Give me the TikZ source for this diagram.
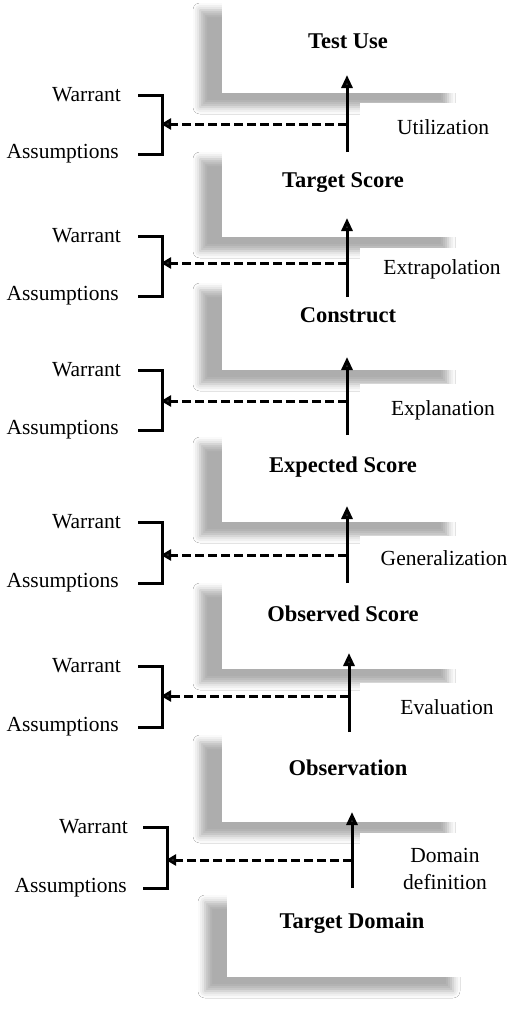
\documentclass[tikz,border=0pt]{standalone}
\usepackage{fontspec}
\setmainfont{Liberation Serif}
\usepackage{tikz}
\usetikzlibrary{positioning,calc,arrows.meta,shadows.blur}

\tikzset{
  layerbox/.style={fill=white, blur shadow={shadow xshift=-22pt, shadow yshift=-14pt,
        shadow blur radius=7pt, shadow opacity=32}},
  stepfill/.style={fill=white},
  levelname/.style={font=\fontsize{22.5}{26}\selectfont\bfseries, inner sep=0pt},
  inference/.style={font=\fontsize{21.5}{25}\selectfont, inner sep=0pt, align=center},
  claimtext/.style={font=\fontsize{21.5}{25}\selectfont, inner sep=0pt, anchor=east},
  uparrow/.style={line width=3pt, -{Triangle[length=13pt,width=11pt]}},
  dasharrow/.style={line width=3pt, dash pattern=on 9pt off 4pt,
        -{Triangle[length=10pt,width=11pt]}, shorten >=-1pt},
  bracket/.style={line width=3pt}
}

\begin{document}
\begin{tikzpicture}[x=1pt, y=-1pt]
  \useasboundingbox (0,0) rectangle (513,1010);
  \fill[white] (0,0) rectangle (513,1010);

  % shadowed layers
  \path[layerbox] (222,-4) rectangle (470,93);
  \fill[stepfill] (360,103) rectangle (513,140);
  \path[layerbox] (222,145) rectangle (470,237);
  \fill[stepfill] (360,248) rectangle (513,280);
  \path[layerbox] (222,276) rectangle (470,370);
  \fill[stepfill] (360,384) rectangle (513,425);
  \path[layerbox] (222,430) rectangle (470,522);
  \fill[stepfill] (360,536) rectangle (513,575);
  \path[layerbox] (222,576) rectangle (470,669);
  \fill[stepfill] (360,683) rectangle (513,725);
  \path[layerbox] (222,728) rectangle (470,822);
  \fill[stepfill] (360,833) rectangle (513,885);
  \path[layerbox] (227,888) rectangle (475,977);

  % level names
  \node[levelname] (use)  at (348,41)  {Test Use};
  \node[levelname] (tgt)  at (343,183) {Target Score};
  \node[levelname] (cons) at (348,315) {Construct};
  \node[levelname] (exp)  at (343,467) {Expected Score};
  \node[levelname] (obs)  at (343,614) {Observed Score};
  \node[levelname] (obsv) at (348,768) {Observation};
  \node[levelname] (dom)  at (352,923) {Target Domain};

  % inferences
  \node[inference] (util)  at (443,127) {Utilization};
  \node[inference] (extra) at (442,269) {Extrapolation};
  \node[inference] (expl)  at (443,410) {Explanation};
  \node[inference] (gen)   at (444,558) {Generalization};
  \node[inference] (eval)  at (447,707) {Evaluation};
  \node[inference] (ddef)  at (445,869) {Domain\\[2pt]definition};

  % warrants and assumptions
  \node[claimtext] (w1) at (121,95)  {Warrant};
  \node[claimtext] (s1) at (119,154) {Assumptions};
  \node[claimtext] (w2) at (121,236) {Warrant};
  \node[claimtext] (s2) at (119,296) {Assumptions};
  \node[claimtext] (w3) at (121,370) {Warrant};
  \node[claimtext] (s3) at (119,430) {Assumptions};
  \node[claimtext] (w4) at (121,522) {Warrant};
  \node[claimtext] (s4) at (119,583) {Assumptions};
  \node[claimtext] (w5) at (121,666) {Warrant};
  \node[claimtext] (s5) at (119,727) {Assumptions};
  \node[claimtext] (w6) at (128,827) {Warrant};
  \node[claimtext] (s6) at (127,888) {Assumptions};

  % arrow ends
  \coordinate (a1) at (347,152); \coordinate (b1) at (347,75);  \coordinate (d1) at (347,124); \coordinate (k1) at (162,124);
  \coordinate (a2) at (347,297); \coordinate (b2) at (347,218); \coordinate (d2) at (347,263); \coordinate (k2) at (162,263);
  \coordinate (a3) at (347,435); \coordinate (b3) at (347,357); \coordinate (d3) at (347,401); \coordinate (k3) at (162,401);
  \coordinate (a4) at (347,583); \coordinate (b4) at (347,506); \coordinate (d4) at (347,555); \coordinate (k4) at (162,555);
  \coordinate (a5) at (349,732); \coordinate (b5) at (349,653); \coordinate (d5) at (349,696); \coordinate (k5) at (162,696);
  \coordinate (a6) at (352,888); \coordinate (b6) at (352,812); \coordinate (d6) at (352,860); \coordinate (k6) at (167,860);

  \draw[uparrow] (a1) -- (b1);
  \draw[uparrow] (a2) -- (b2);
  \draw[uparrow] (a3) -- (b3);
  \draw[uparrow] (a4) -- (b4);
  \draw[uparrow] (a5) -- (b5);
  \draw[uparrow] (a6) -- (b6);

  \draw[bracket] ([xshift=17pt]w1.east) -| (k1) |- ([xshift=19pt]s1.east);
  \draw[bracket] ([xshift=17pt]w2.east) -| (k2) |- ([xshift=19pt]s2.east);
  \draw[bracket] ([xshift=17pt]w3.east) -| (k3) |- ([xshift=19pt]s3.east);
  \draw[bracket] ([xshift=17pt]w4.east) -| (k4) |- ([xshift=19pt]s4.east);
  \draw[bracket] ([xshift=17pt]w5.east) -| (k5) |- ([xshift=19pt]s5.east);
  \draw[bracket] ([xshift=15pt]w6.east) -| (k6) |- ([xshift=16pt]s6.east);

  \draw[dasharrow] (d1) -- (k1);
  \draw[dasharrow] (d2) -- (k2);
  \draw[dasharrow] (d3) -- (k3);
  \draw[dasharrow] (d4) -- (k4);
  \draw[dasharrow] (d5) -- (k5);
  \draw[dasharrow] (d6) -- (k6);
\end{tikzpicture}
\end{document}
